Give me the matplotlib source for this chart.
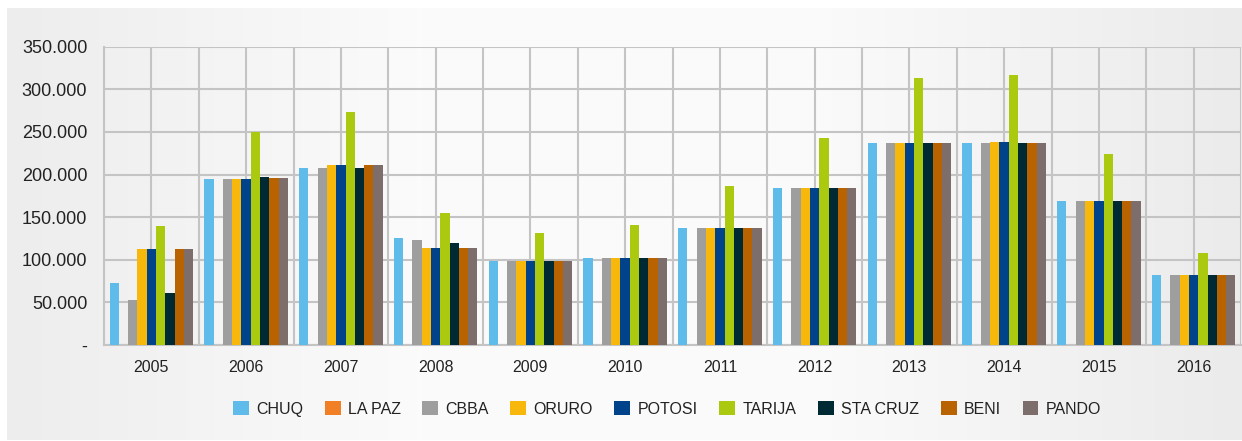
import numpy as np
import matplotlib.pyplot as plt
from matplotlib.colors import LinearSegmentedColormap
from matplotlib.ticker import FuncFormatter

years = ["2005", "2006", "2007", "2008", "2009", "2010",
         "2011", "2012", "2013", "2014", "2015", "2016"]
series = ["CHUQ", "LA PAZ", "CBBA", "ORURO", "POTOSI", "TARIJA", "STA CRUZ", "BENI", "PANDO"]

chuq = [72700, 194700, 207600, 125500, 98500, 102000, 137200, 184200, 237000, 237000, 168900, 82100]
la_paz = [0, 0, 0, 0, 0, 0, 0, 0, 0, 0, 0, 0]
cbba = [52800, 194700, 207600, 123000, 98500, 102000, 137200, 184200, 237000, 237000, 168900, 82100]
oruro = [112600, 194700, 211000, 113800, 98500, 102000, 137200, 184200, 237000, 238100, 168900, 82100]
potosi = [112600, 194700, 211000, 113800, 98500, 102000, 137200, 184200, 237000, 238100, 168900, 82100]
tarija = [139600, 249900, 273300, 154800, 131400, 140800, 186500, 242800, 313200, 316700, 224000, 107900]
sta_cruz = [61000, 197000, 207600, 119600, 98500, 102000, 137200, 184200, 237000, 237000, 168900, 82100]
beni = [112600, 195900, 211000, 113800, 98500, 102000, 137200, 184200, 237000, 237000, 168900, 82100]
pando = [112600, 195900, 211000, 113800, 98500, 102000, 137200, 184200, 237000, 237000, 168900, 82100]

values = [chuq, la_paz, cbba, oruro, potosi, tarija, sta_cruz, beni, pando]
colors = ["#5fbcea", "#f07f26", "#9e9e9e", "#f7b70b", "#00438a",
          "#abc90e", "#002a33", "#b96300", "#7d6e6c"]

plt.rcParams['font.family'] = ["Liberation Sans", "DejaVu Sans"]

fig = plt.figure(figsize=(12.42, 4.41), dpi=100)
fig.patch.set_facecolor("white")

# grey gradient panel behind the chart
bg = fig.add_axes([7 / 1242, 1 / 441, 1 - 7 / 1242, 1 - 9 / 441])
cmap = LinearSegmentedColormap.from_list("bg", ["#ededed", "#fbfbfb", "#fafafa", "#ebebeb"])
bg.imshow(np.linspace(0, 1, 256).reshape(1, -1), cmap=cmap, aspect="auto", extent=[0, 1, 0, 1])
bg.set_axis_off()

ax = fig.add_axes([104 / 1242, 1 - 345 / 441, 1137 / 1242, 298.3 / 441])
ax.set_facecolor("none")

x = np.arange(len(years))
n = len(series)
group = 0.88
w = group / n
for i, (name, vals, c) in enumerate(zip(series, values, colors)):
    ax.bar(x - group / 2 + w * (i + 0.5), vals, width=w, color=c, label=name, zorder=3)

ax.set_xlim(-0.5, len(years) - 0.5)
ax.set_ylim(0, 350000)
ax.set_yticks(np.arange(0, 350001, 50000))
ax.yaxis.set_major_formatter(FuncFormatter(
    lambda v, p: "-" if v == 0 else f"{int(v):,}".replace(",", ".")))
ax.set_xticks(x)
ax.set_xticklabels(years, fontsize=11.5, color="#222222")
ax.set_xticks(np.arange(-0.5, len(years), 1.0), minor=True)
ax.tick_params(axis="y", labelsize=13, length=0, pad=12, labelcolor="#222222")
ax.tick_params(axis="x", which="both", length=0, pad=11)

grid_c = "#c4c4c4"
ax.grid(True, axis="y", color=grid_c, lw=1.5, zorder=0)
ax.grid(True, axis="x", which="both", color=grid_c, lw=1.5, zorder=0)
for s in ["top", "right"]:
    ax.spines[s].set_visible(False)
for s in ["left", "bottom"]:
    ax.spines[s].set_color(grid_c)
    ax.spines[s].set_linewidth(1.5)

fig.legend(loc="center", bbox_to_anchor=(0.537, 1 - 409 / 441), ncol=9, frameon=False,
           prop={"size": 11.5}, handlelength=1.0, handleheight=1.0,
           handletextpad=0.45, columnspacing=1.35, labelcolor="#222222")

fig.savefig("out.png", dpi=100)
